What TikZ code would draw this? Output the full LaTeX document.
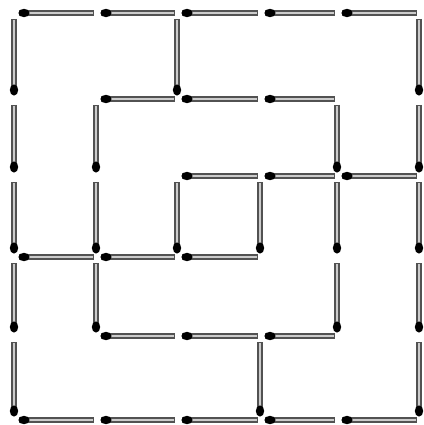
\documentclass[tikz,border=0pt]{standalone}
\usetikzlibrary{calc}
\tikzset{
  stick/.style={line width=6pt, draw=black!68},
  stickcore/.style={line width=2.8pt, draw=black!20},
  matchhead/.style={fill=black}
}
\newcommand\hmat[2]{%
  \pgfmathtruncatemacro\nxt{#1+1}%
  \draw[stick] ($(g-#1-#2)+(5,0)$) -- ($(g-\nxt-#2)+(-2,0)$);
  \draw[stickcore] ($(g-#1-#2)+(5,0)$) -- ($(g-\nxt-#2)+(-3,0)$);
  \fill[matchhead] ($(g-#1-#2)+(10,0)$) ellipse (5.6 and 4.2);
}
\newcommand\vmat[2]{%
  \pgfmathtruncatemacro\nxt{#2+1}%
  \draw[stick] ($(g-#1-#2)+(0,6)$) -- ($(g-#1-\nxt)+(0,-6)$);
  \draw[stickcore] ($(g-#1-#2)+(0,7)$) -- ($(g-#1-\nxt)+(0,-6)$);
  \fill[matchhead] ($(g-#1-\nxt)+(0,-9)$) ellipse (4.2 and 5.6);
}
\begin{document}
\begin{tikzpicture}[x=1pt,y=-1pt]
\useasboundingbox (0,0) rectangle (423,425);
\fill[white] (0,0) rectangle (423,425);
\foreach \i/\xx in {0/14,1/96,2/177,3/260,4/337,5/419}{
  \foreach \j/\yy in {0/13,1/99,2/176,3/257,4/336,5/420}{
    \coordinate (g-\i-\j) at (\xx,\yy);
  }
}
% outer frame
\foreach \i in {0,...,4}{\hmat{\i}{0}\hmat{\i}{5}}
\foreach \j in {0,...,4}{\vmat{0}{\j}\vmat{5}{\j}}
% interior
\vmat{2}{0}
\foreach \i in {1,2,3}{\hmat{\i}{1}}
\foreach \j in {1,2,3}{\vmat{1}{\j}\vmat{4}{\j}}
\foreach \i in {2,3,4}{\hmat{\i}{2}}
\vmat{2}{2}
\vmat{3}{2}
\foreach \i in {0,1,2}{\hmat{\i}{3}}
\foreach \i in {1,2,3}{\hmat{\i}{4}}
\vmat{3}{4}
\end{tikzpicture}
\end{document}
